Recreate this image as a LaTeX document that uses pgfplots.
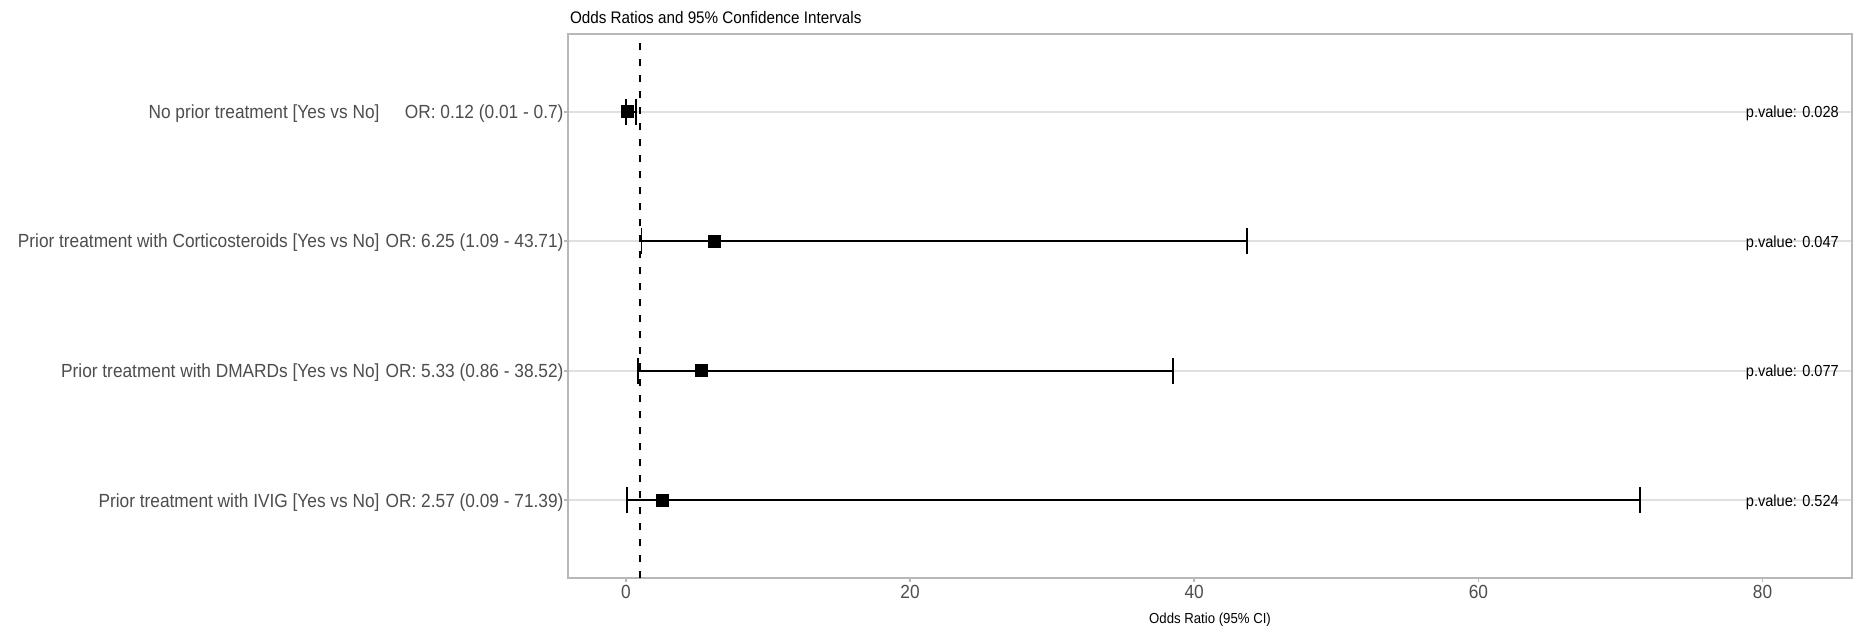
\documentclass[border=0pt]{standalone}
\usepackage{pgfplots}
\pgfplotsset{compat=1.18}
\usepackage{pgfplotstable}
\usepackage{fontspec}
\setmainfont[FakeStretch=0.91]{Liberation Sans}
\definecolor{txtgrey}{HTML}{4D4D4D}
\definecolor{bordergrey}{HTML}{B8B8B8}
\definecolor{gridgrey}{HTML}{E0E0E0}
\newcommand\yl[2]{\makebox[0pt][r]{#1}\makebox[73.6pt][r]{#2}}
\pgfplotstableread{
y or em ep
4 0.12 0.11 0.58
3 6.25 5.16 37.46
2 5.33 4.47 33.19
1 2.57 2.48 68.82
}\ortable
\begin{document}
\begin{tikzpicture}
\useasboundingbox (0,0) rectangle (743.2pt,251.6pt);
\begin{axis}[
  scale only axis, width=513.6pt, height=217.6pt,
  at={(227.2pt,20.4pt)}, anchor=south west,
  xmin=-4.08, xmax=86.3, ymin=0.4, ymax=4.6,
  clip=false,
  xtick={0,20,40,60,80},
  ytick={1,2,3,4},
  yticklabels={
    {\yl{Prior treatment with IVIG [Yes vs No]}{OR: 2.57 (0.09 - 71.39)}},
    {\yl{Prior treatment with DMARDs [Yes vs No]}{OR: 5.33 (0.86 - 38.52)}},
    {\yl{Prior treatment with Corticosteroids [Yes vs No]}{OR: 6.25 (1.09 - 43.71)}},
    {\yl{No prior treatment [Yes vs No]}{OR: 0.12 (0.01 - 0.7)}}},
  axis line style={bordergrey, line width=0.7pt},
  tick style={bordergrey, line width=0.7pt},
  tick align=outside, major tick length=1.6pt,
  xtick pos=bottom, ytick pos=left,
  ymajorgrids, grid style={gridgrey, line width=0.7pt},
  /pgf/number format/assume math mode=true,
  ticklabel style={font=\fontsize{7.6}{8}\selectfont, text=txtgrey},
  yticklabel style={anchor=base east, inner sep=0pt, yshift=-2.7pt},
  xticklabel style={anchor=north, inner sep=0pt, yshift=-1.2pt},
]
\addplot[black, dash pattern=on 2.8pt off 3.6pt, line width=0.6pt] coordinates {(1,0.4) (1,4.6)};
\addplot[only marks, mark=none, black,
  error bars/.cd, x dir=both, x explicit,
  error bar style={draw=black, line width=0.7pt},
  error mark options={draw=black, line width=0.7pt, mark size=5.2pt, rotate=90}]
  table[x=or, y=y, x error plus=ep, x error minus=em] {\ortable};
\addplot[only marks, mark=square*, mark size=2.4pt, black] table[x=or, y=y] {\ortable};
\node[anchor=base, font=\fontsize{6.4}{8}\selectfont, text=black, yshift=-2.4pt] at (axis cs:82.1,4) {p.value: 0.028};
\node[anchor=base, font=\fontsize{6.4}{8}\selectfont, text=black, yshift=-2.4pt] at (axis cs:82.1,3) {p.value: 0.047};
\node[anchor=base, font=\fontsize{6.4}{8}\selectfont, text=black, yshift=-2.4pt] at (axis cs:82.1,2) {p.value: 0.077};
\node[anchor=base, font=\fontsize{6.4}{8}\selectfont, text=black, yshift=-2.4pt] at (axis cs:82.1,1) {p.value: 0.524};
\node[anchor=base west, font=\fontsize{6.7}{8}\selectfont, text=black, inner sep=0pt, yshift=4.4pt, xshift=0.6pt] at (rel axis cs:0,1) {Odds Ratios and 95\% Confidence Intervals};
\node[anchor=base, font=\fontsize{5.8}{8}\selectfont, text=black, inner sep=0pt, yshift=-18pt] at (rel axis cs:0.5,0) {Odds Ratio (95\% CI)};
\end{axis}
\end{tikzpicture}
\end{document}
